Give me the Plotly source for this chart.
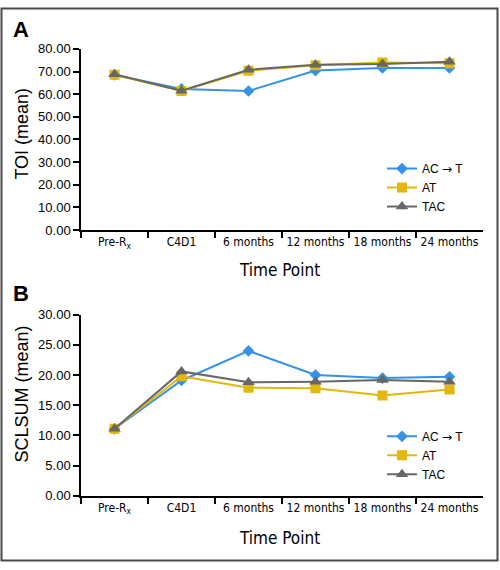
import plotly.graph_objects as go

categories = ["Pre-Rx", "C4D1", "6 months", "12 months", "18 months", "24 months"]
tick_labels = ["Pre-R<sub>x</sub>", "C4D1", "6 months", "12 months", "18 months", "24 months"]
series_names = ["AC <span style='font-family:DejaVu Sans'>\u2192</span> T", "AT", "TAC"]

toi_act = [68.5, 62.3, 61.4, 70.4, 71.6, 71.6]
toi_at = [68.6, 61.4, 70.3, 72.8, 74.0, 73.6]
toi_tac = [68.8, 61.5, 70.8, 73.0, 73.3, 74.3]

scl_act = [11.1, 19.1, 24.0, 20.0, 19.5, 19.7]
scl_at = [11.1, 19.8, 17.9, 17.8, 16.6, 17.6]
scl_tac = [11.1, 20.6, 18.8, 18.9, 19.2, 18.9]

colors = ["#3592e8", "#e2b80c", "#676767"]
symbols = ["diamond", "square", "triangle-up"]
msizes = [9, 10, 11]

W, H = 500, 570
def px(x):
    return x / W
def py(y):
    return 1 - y / H

fig = go.Figure()
for i, (vals, name) in enumerate(zip([toi_act, toi_at, toi_tac], series_names)):
    fig.add_trace(go.Scatter(x=categories, y=vals, name=name, mode="lines+markers",
                             line=dict(color=colors[i], width=2),
                             marker=dict(symbol=symbols[i], size=msizes[i], color=colors[i]),
                             xaxis="x", yaxis="y", legend="legend"))
for i, (vals, name) in enumerate(zip([scl_act, scl_at, scl_tac], series_names)):
    fig.add_trace(go.Scatter(x=categories, y=vals, name=name, mode="lines+markers",
                             line=dict(color=colors[i], width=2),
                             marker=dict(symbol=symbols[i], size=msizes[i], color=colors[i]),
                             xaxis="x2", yaxis="y2", legend="legend2"))

cond = "DejaVu Sans Condensed, Liberation Sans Narrow, Roboto, sans-serif"
xfont = dict(family=cond, size=12, color="black")
yfont = dict(family="Liberation Sans, Arial, sans-serif", size=13, color="black")

xcommon = dict(type="category", categoryorder="array", categoryarray=categories,
               tickvals=categories, ticktext=tick_labels, tickson="boundaries",
               tickangle=0,
               ticks="outside", ticklen=6, tickcolor="black", tickwidth=1.5,
               showline=True, linecolor="black", linewidth=1.5, showgrid=False,
               zeroline=False, tickfont=xfont, domain=[px(81), px(483)],
               range=[-0.5, 5.5], fixedrange=True)
ycommon = dict(ticks="outside", ticklen=6, tickcolor="black", tickwidth=1.5,
               showline=True, linecolor="black", linewidth=1.5, showgrid=False,
               zeroline=False, tickfont=yfont, tickformat=".2f", fixedrange=True)

legfont = dict(family="Liberation Sans, Arial, sans-serif", size=12, color="black")
fig.update_layout(
    width=W, height=H,
    margin=dict(l=0, r=0, t=0, b=0),
    paper_bgcolor="white", plot_bgcolor="white",
    xaxis=dict(xcommon, anchor="y"),
    yaxis=dict(ycommon, range=[0, 80], dtick=10, anchor="x", domain=[py(229), py(43)]),
    xaxis2=dict(xcommon, anchor="y2"),
    yaxis2=dict(ycommon, range=[0, 30], dtick=5, anchor="x2", domain=[py(502), py(316)]),
    legend=dict(x=px(382), y=py(151), xanchor="left", yanchor="top",
                font=legfont, bgcolor="rgba(0,0,0,0)", itemwidth=30),
    legend2=dict(x=px(382), y=py(426), xanchor="left", yanchor="top",
                 font=legfont, bgcolor="rgba(0,0,0,0)", itemwidth=30),
    showlegend=True,
)

title_font = dict(family=cond, size=17, color="black")
ytitle_font = dict(family="Liberation Sans, Arial, sans-serif", size=18, color="black")
anns = [
    dict(text="<b>A</b>", x=px(11), y=py(23), xanchor="left", yanchor="middle",
         font=dict(family="Liberation Sans, Arial, sans-serif", size=22, color="black")),
    dict(text="<b>B</b>", x=px(11), y=py(294), xanchor="left", yanchor="middle",
         font=dict(family="Liberation Sans, Arial, sans-serif", size=22, color="black")),
    dict(text="Time Point", x=px(279), y=py(270), xanchor="center", yanchor="middle", font=title_font),
    dict(text="Time Point", x=px(279), y=py(545), xanchor="center", yanchor="middle", font=title_font),
    dict(text="TOI (mean)", x=px(22), y=py(130), xanchor="center", yanchor="middle",
         textangle=-90, font=ytitle_font),
    dict(text="SCLSUM (mean)", x=px(22), y=py(398), xanchor="center", yanchor="middle",
         textangle=-90, font=ytitle_font),
]
for a in anns:
    a.update(xref="paper", yref="paper", showarrow=False)
fig.update_layout(annotations=anns)

fig.add_shape(type="rect", xref="paper", yref="paper", x0=px(1.5), x1=px(497.5),
              y0=py(568.5), y1=py(1.5), line=dict(color="#4a4a4a", width=2))

fig.write_html("out.html", config=dict(displayModeBar=False),
               post_script="document.body.style.margin='0';document.documentElement.style.margin='0';")
